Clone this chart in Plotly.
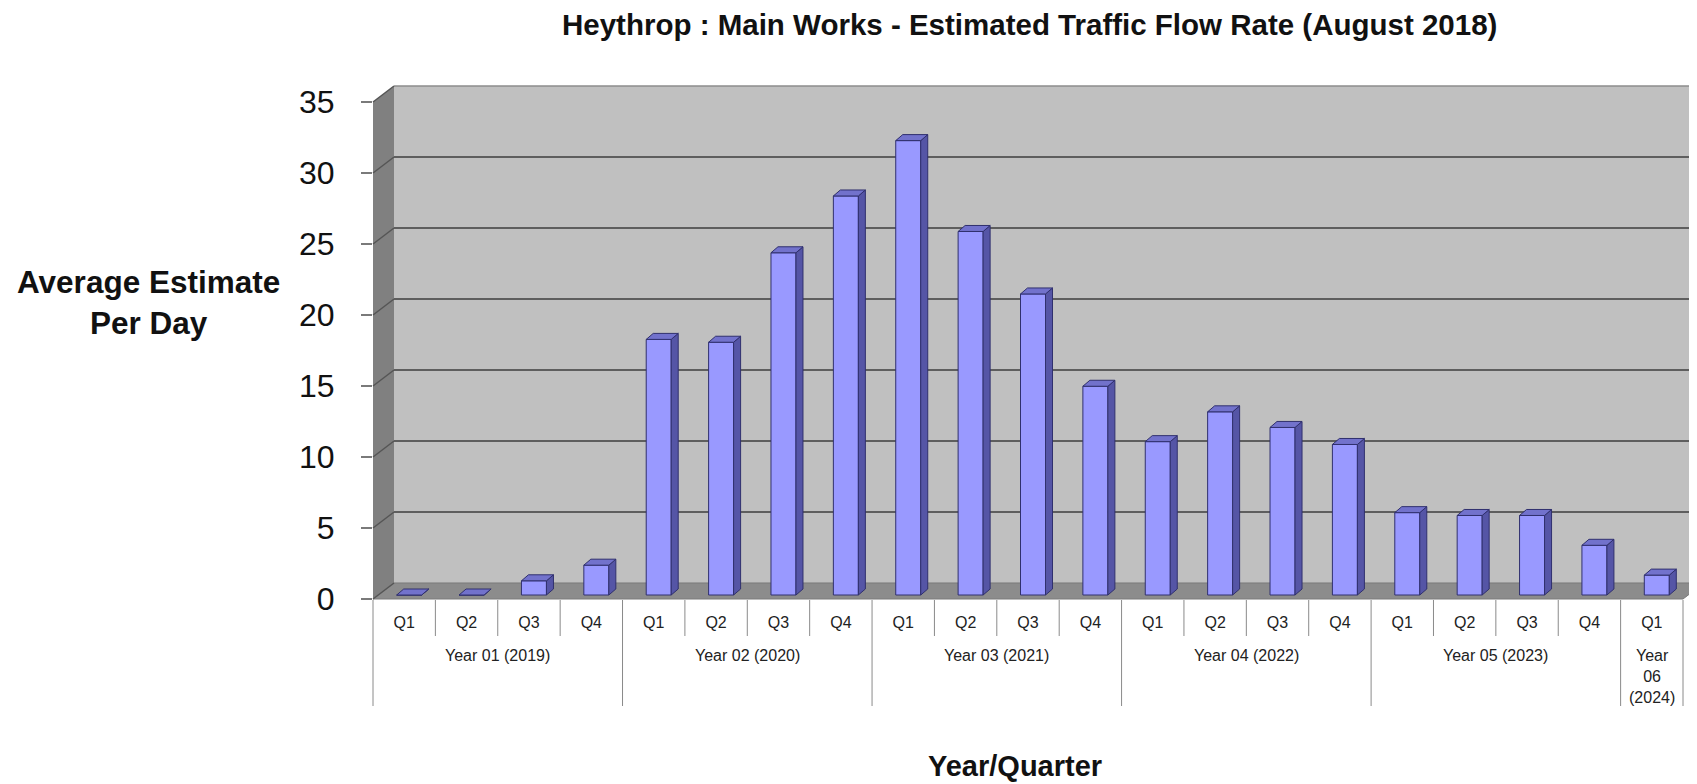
import plotly.graph_objects as go

# ---------------- data ----------------
quarters = ["Q1", "Q2", "Q3", "Q4"] * 5 + ["Q1"]
years = ["Year 01 (2019)", "Year 02 (2020)", "Year 03 (2021)",
         "Year 04 (2022)", "Year 05 (2023)", "Year<br>06<br>(2024)"]
quarters_per_year = [4, 4, 4, 4, 4, 1]
flow_rate = [0.0, 0.0, 1.0, 2.1, 18.0, 17.8, 24.1, 28.1, 32.0, 25.6, 21.2,
             14.7, 10.8, 12.9, 11.8, 10.6, 5.8, 5.6, 5.6, 3.5, 1.4]
y_ticks = [0, 5, 10, 15, 20, 25, 30, 35]

title = "Heythrop : Main Works - Estimated Traffic Flow Rate (August 2018)"
y_title = "Average Estimate<br>Per Day"
x_title = "Year/Quarter"

# ---------------- geometry (pixels) ----------------
W, H = 1697, 784
OFF = 8                              # page offset of the figure
FX0, FX1, FY0 = 373 - OFF, 1683 - OFF, 599 - OFF
P = 14.2                            # pixels per unit
DX, DY = 21, 16                     # 3-D depth offset of the walls
YMAX = 35
n = len(flow_rate)
CW = (FX1 - FX0) / n                # category width in px
FONT = "Arial, 'Liberation Sans', sans-serif"


def pxp(x):
    return x / W


def pyp(y):
    return 1 - y / H


def xpix(v):
    return FX0 + (v + 0.5) * CW


def ypix(v):
    return FY0 - v * P


idx = list(range(n))

# bar geometry (in data units)
BAR_W = 25 / CW
BAR_SHIFT = 5 / CW
BASE = 4 / P
BDX = 7 / CW
BDY = 6 / P

fig = go.Figure()

fig.add_trace(go.Scatter(x=[], y=[], xaxis="x", yaxis="y", showlegend=False))

fig.add_trace(go.Bar(
    x=idx, y=flow_rate, base=BASE, width=BAR_W, offset=BAR_SHIFT - BAR_W / 2,
    xaxis="x2", yaxis="y2",
    marker=dict(color="#9999FF", line=dict(color="#30306e", width=1)),
    showlegend=False, hoverinfo="skip"))

sx, sy, tx, ty = [], [], [], []
for i, v in enumerate(flow_rate):
    xl = i + BAR_SHIFT - BAR_W / 2
    xr = i + BAR_SHIFT + BAR_W / 2
    b0, b1 = BASE, BASE + v
    sx += [xr, xr + BDX, xr + BDX, xr, xr, None]
    sy += [b0, b0 + BDY, b1 + BDY, b1, b0, None]
    tx += [xl, xr, xr + BDX, xl + BDX, xl, None]
    ty += [b1, b1, b1 + BDY, b1 + BDY, b1, None]

fig.add_trace(go.Scatter(x=sx, y=sy, xaxis="x2", yaxis="y2", mode="lines",
                         fill="toself", fillcolor="#5555a6",
                         line=dict(color="#30306e", width=1),
                         showlegend=False, hoverinfo="skip"))
fig.add_trace(go.Scatter(x=tx, y=ty, xaxis="x2", yaxis="y2", mode="lines",
                         fill="toself", fillcolor="#7272cc",
                         line=dict(color="#30306e", width=1),
                         showlegend=False, hoverinfo="skip"))

shapes = []


def path(points):
    return "M " + " L ".join(f"{pxp(x):.6f},{pyp(y):.6f}" for x, y in points) + " Z"


top_back = FY0 - DY - YMAX * P
# back wall
shapes.append(dict(type="rect", xref="paper", yref="paper", layer="below",
                   x0=pxp(FX0 + DX), x1=1.02, y0=pyp(FY0 - DY), y1=pyp(top_back),
                   fillcolor="#C0C0C0", line=dict(width=0)))
shapes.append(dict(type="line", xref="paper", yref="paper", layer="below",
                   x0=pxp(FX0 + DX), x1=1.02, y0=pyp(top_back), y1=pyp(top_back),
                   line=dict(color="#8c8c8c", width=1.5)))
# side wall
shapes.append(dict(type="path", xref="paper", yref="paper", layer="below",
                   path=path([(FX0, FY0), (FX0, ypix(YMAX)), (FX0 + DX, top_back),
                              (FX0 + DX, FY0 - DY)]),
                   fillcolor="#808080", line=dict(width=0)))
# floor
shapes.append(dict(type="path", xref="paper", yref="paper", layer="below",
                   path=path([(FX0, FY0), (FX1, FY0), (FX1 + DX, FY0 - DY),
                              (FX0 + DX, FY0 - DY)]),
                   fillcolor="#8c8c8c", line=dict(color="#7a7a7a", width=1)))
# slanted grid lines on the side wall
for t in y_ticks:
    shapes.append(dict(type="line", xref="paper", yref="paper", layer="below",
                       x0=pxp(FX0), y0=pyp(ypix(t)), x1=pxp(FX0 + DX), y1=pyp(ypix(t) - DY),
                       line=dict(color="#555555", width=1.5)))
# category dividers
year_bounds = [0]
for q in quarters_per_year:
    year_bounds.append(year_bounds[-1] + q)
for k in range(n + 1):
    bottom = FY0 + 107 if k in year_bounds else FY0 + 37
    shapes.append(dict(type="line", xref="paper", yref="paper", layer="below",
                       x0=pxp(xpix(k - 0.5)), x1=pxp(xpix(k - 0.5)),
                       y0=pyp(FY0 + 1), y1=pyp(bottom),
                       line=dict(color="#8a8a8a", width=1)))

annotations = []
for j, yl in enumerate(years):
    c = (year_bounds[j] + year_bounds[j + 1] - 1) / 2
    annotations.append(dict(text=yl, xref="paper", yref="paper",
                            x=pxp(xpix(c)), y=pyp(FY0 + 46), xanchor="center", yanchor="top",
                            showarrow=False, align="center",
                            font=dict(family=FONT, size=16, color="#222222")))
annotations.append(dict(text=title, xref="paper", yref="paper", x=pxp(1029.5 - OFF), y=pyp(24 - OFF),
                        xanchor="center", yanchor="middle", showarrow=False,
                        font=dict(family=FONT, size=29.5, color="#111111", weight="bold")))
annotations.append(dict(text=y_title, xref="paper", yref="paper", x=pxp(148 - OFF), y=pyp(303 - OFF),
                        xanchor="center", yanchor="middle", showarrow=False, align="center",
                        font=dict(family=FONT, size=31.5, color="#111111", weight="bold")))
annotations.append(dict(text=x_title, xref="paper", yref="paper", x=pxp(1015 - OFF), y=pyp(766 - OFF),
                        xanchor="center", yanchor="middle", showarrow=False,
                        font=dict(family=FONT, size=29, color="#111111", weight="bold")))

fig.update_layout(
    width=W, height=H, margin=dict(l=0, r=0, t=0, b=0, autoexpand=False),
    autosize=False,
    paper_bgcolor="white", plot_bgcolor="rgba(0,0,0,0)", showlegend=False,
    shapes=shapes, annotations=annotations,
    xaxis=dict(domain=[pxp(FX0 + DX), 1], anchor="y", range=[0, 1], visible=False,
               automargin=False),
    yaxis=dict(domain=[pyp(FY0 - DY), pyp(top_back)], anchor="x", range=[0, YMAX],
               tickmode="array", tickvals=y_ticks, showticklabels=False, ticks="",
               showgrid=True, gridcolor="#5e5e5e", gridwidth=2, zeroline=False,
               automargin=False),
    xaxis2=dict(domain=[pxp(FX0), 1], anchor="y2",
                range=[-0.5, -0.5 + (W - FX0) / CW],
                tickmode="array", tickvals=idx, ticktext=quarters, ticks="",
                showgrid=False, zeroline=False, showline=False,
                tickfont=dict(family=FONT, size=16, color="#222222"),
                ticklabelstandoff=12, automargin=False),
    yaxis2=dict(domain=[pyp(FY0), pyp(ypix(YMAX))], anchor="x2", range=[0, YMAX],
                tickmode="array", tickvals=y_ticks, ticks="outside", ticklen=11,
                tickcolor="#7a7a7a", tickwidth=1.5, showgrid=False, zeroline=False,
                showline=False, tickfont=dict(family=FONT, size=32, color="#111111"),
                ticklabelstandoff=20, automargin=False),
)

fig.write_html("out.html")
